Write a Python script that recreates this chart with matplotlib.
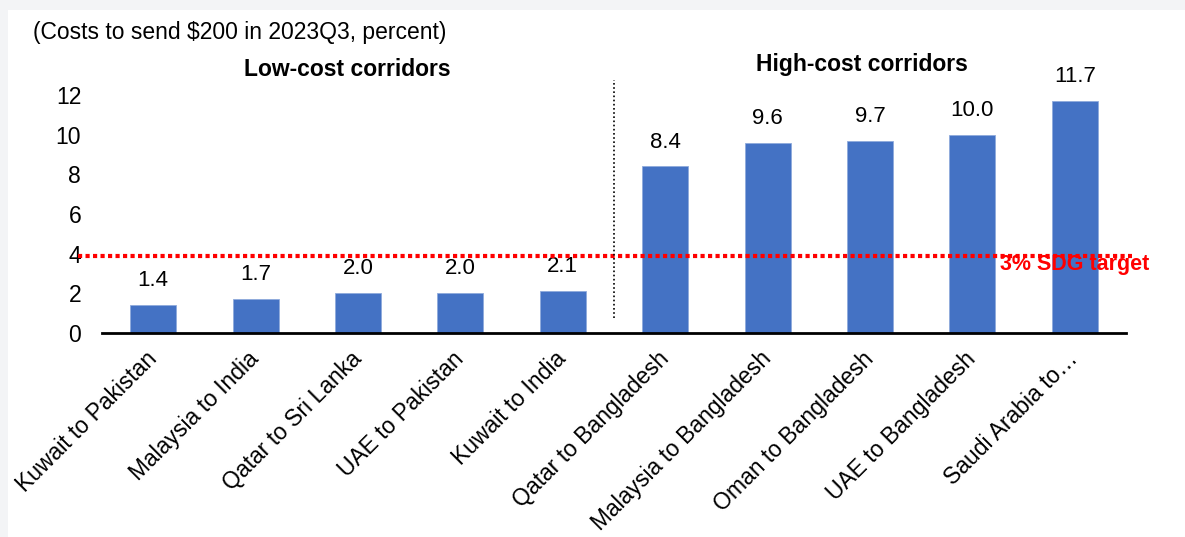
import numpy as np
import matplotlib.pyplot as plt
from matplotlib.patches import Rectangle

plt.rcParams['font.family'] = ['Liberation Sans', 'DejaVu Sans']

corridors = ['Kuwait to Pakistan', 'Malaysia to India', 'Qatar to Sri Lanka',
             'UAE to Pakistan', 'Kuwait to India', 'Qatar to Bangladesh',
             'Malaysia to Bangladesh', 'Oman to Bangladesh', 'UAE to Bangladesh',
             'Saudi Arabia to…']
costs = [1.4, 1.7, 2.0, 2.0, 2.1, 8.4, 9.6, 9.7, 10.0, 11.7]
value_labels = ['1.4', '1.7', '2.0', '2.0', '2.1', '8.4', '9.6', '9.7', '10.0', '11.7']
yticks = [0, 2, 4, 6, 8, 10, 12]
sdg_level = 3.9

W, H = 1185, 537
fig = plt.figure(figsize=(W / 100, H / 100), dpi=100)
fig.patch.set_facecolor('#f3f4f6')
fig.patches.append(Rectangle((8 / W, 0), 1 - 8 / W, 1 - 10 / H, transform=fig.transFigure,
                             facecolor='white', edgecolor='none', zorder=-10))

ax = fig.add_axes([102 / W, (H - 333) / H, (1126 - 102) / W, (333 - 95) / H])
ax.patch.set_alpha(0)

x = np.arange(len(costs))
ax.bar(x, costs, width=0.45, color='#4472C4', edgecolor='#8faadc', linewidth=0.6, zorder=3)
for xi, v, lab in zip(x, costs, value_labels):
    ax.annotate(lab, (xi, v), xytext=(0, 10), textcoords='offset points',
                ha='center', va='bottom', fontsize=16)

ax.set_xlim(-0.5, 9.5)
ax.set_ylim(0, 12)
ax.set_yticks(yticks)
ax.tick_params(axis='y', length=0, labelsize=16.5, pad=15)
ax.set_xticks(x)
ax.set_xticklabels(corridors, rotation=45, ha='right', va='center',
                   rotation_mode='anchor', fontsize=16.5)
ax.tick_params(axis='x', length=0, pad=16)
for s in ['top', 'right', 'left']:
    ax.spines[s].set_visible(False)
ax.spines['bottom'].set_linewidth(2)
ax.spines['bottom'].set_zorder(5)

# SDG target line
ax.plot([-0.73, 9.56], [sdg_level, sdg_level], color='#ff0000', linestyle=(0, (1, 0.8)),
        linewidth=3, clip_on=False, zorder=4)
ax.text(8.27, 3.45, '3% SDG target', color='#ff0000', fontsize=15.5, fontweight='bold',
        ha='left', va='center', zorder=6)

# divider between groups
ax.plot([4.5, 4.5], [0.75, 12.75], color='black', linestyle=(0, (1, 1.5)),
        linewidth=1.2, clip_on=False, zorder=4)

fig.text(33 / W, 1 - 33 / H, '(Costs to send $200 in 2023Q3, percent)',
         fontsize=16.5, ha='left', va='center')
fig.text(347 / W, 1 - 70 / H, 'Low-cost corridors', fontsize=16.5, fontweight='bold',
         ha='center', va='center')
fig.text(862 / W, 1 - 65 / H, 'High-cost corridors', fontsize=16.5, fontweight='bold',
         ha='center', va='center')

fig.savefig('out.png', dpi=100)
